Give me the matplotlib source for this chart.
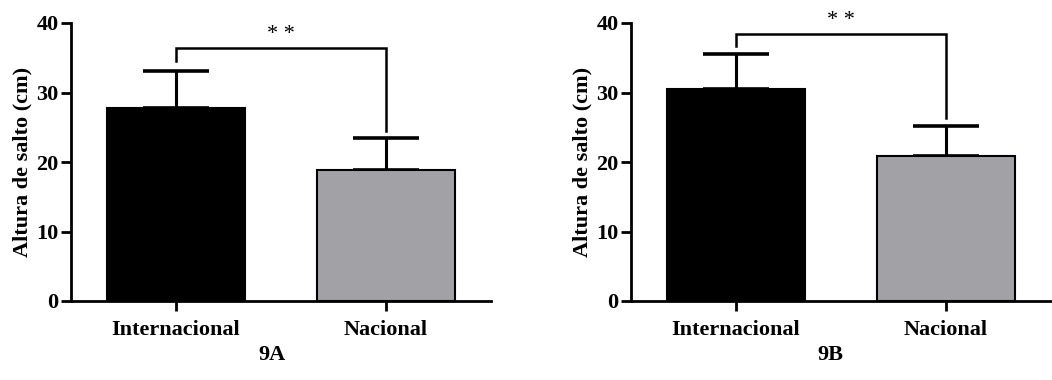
import numpy as np
import matplotlib.pyplot as plt

plt.rcParams['font.family'] = ['Liberation Serif', 'DejaVu Serif']
plt.rcParams['font.weight'] = 'bold'
plt.rcParams['axes.labelweight'] = 'bold'

groups = ["Internacional", "Nacional"]
means_9a = [27.7, 18.9]
sd_9a = [5.4, 4.5]
means_9b = [30.5, 20.9]
sd_9b = [5.1, 4.3]

# bracket heights for the significance marks: (top, left end, right end)
bracket_9a = (36.4, 34.5, 24.5)
bracket_9b = (38.4, 36.7, 26.4)
signif = "* *"

bar_colors = ["#000000", "#a2a1a6"]

W, H = 1052, 380
fig = plt.figure(figsize=(W / 100, H / 100), dpi=100)


def panel(left_px, means, sds, bracket, tag, tag_x):
    ax = fig.add_axes([left_px / W, 1 - 301 / H, 420 / W, 278 / H])
    x = np.arange(len(groups))
    ax.bar(x, means, width=0.66, color=bar_colors, edgecolor="black",
           linewidth=1.5, zorder=2)
    ax.errorbar(x, means, yerr=[np.zeros(len(sds)), sds], fmt="none",
                ecolor="black", elinewidth=2.2, capsize=24, capthick=2.6,
                zorder=1)
    top, l_end, r_end = bracket
    ax.plot([0, 0, 1, 1], [l_end, top, top, r_end], color="black",
            lw=1.8, solid_joinstyle="miter", clip_on=False)
    ax.text(0.5, top + 0.6, signif, ha="center", va="bottom", fontsize=16,
            fontweight="normal")

    ax.set_xlim(-0.5, 1.5)
    ax.set_ylim(0, 40)
    ax.set_yticks([0, 10, 20, 30, 40])
    ax.set_xticks(x)
    ax.set_xticklabels(groups)
    ax.spines[["top", "right"]].set_visible(False)
    ax.spines[["left", "bottom"]].set_linewidth(2)
    ax.tick_params(axis="both", width=2, length=7, labelsize=16, pad=2)
    ax.tick_params(axis="x", pad=7)
    ax.set_ylabel("Altura de salto (cm)", fontsize=16, labelpad=3)
    fig.text(tag_x / W, 1 - 355 / H, tag, ha="center", va="center",
             fontsize=16)
    return ax


panel(71, means_9a, sd_9a, bracket_9a, "9A", 272)
panel(631, means_9b, sd_9b, bracket_9b, "9B", 830)

fig.savefig("out.png", dpi=100)
